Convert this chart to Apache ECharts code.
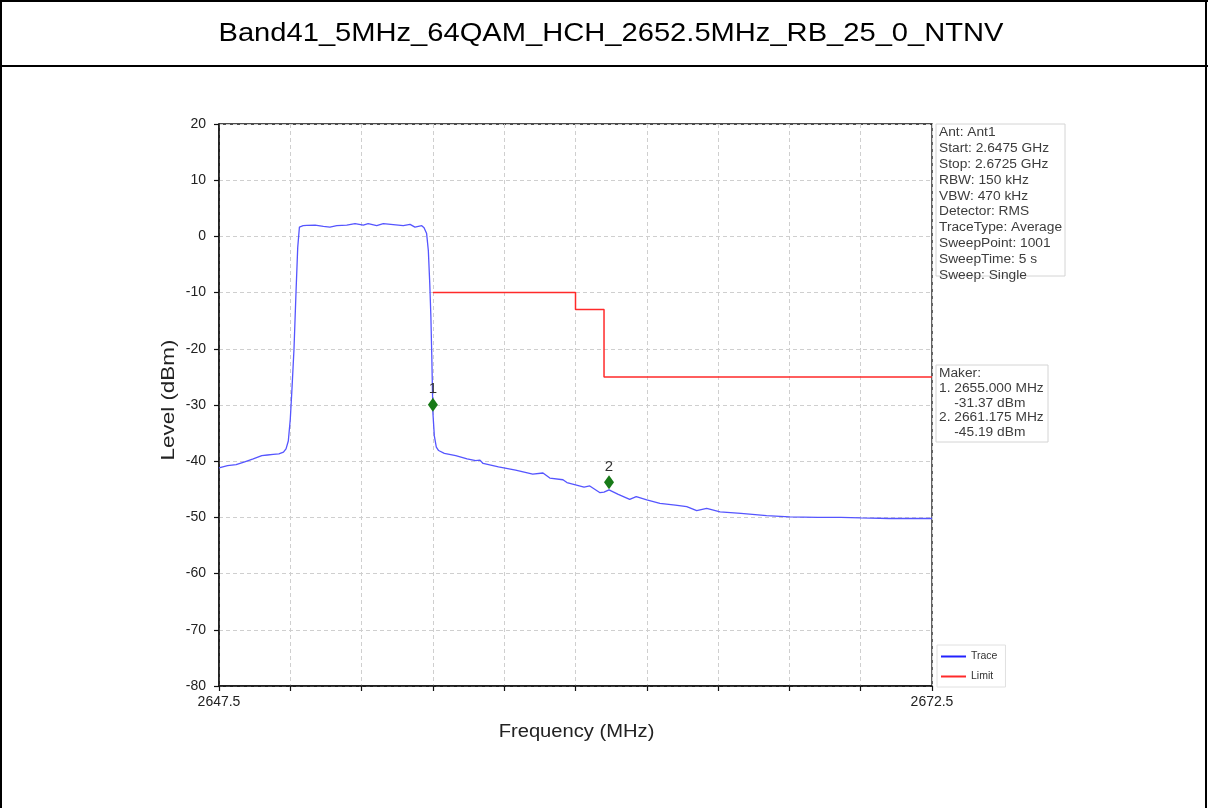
<!DOCTYPE html>
<html>
<head>
<meta charset="utf-8">
<script src="https://cdn.jsdelivr.net/npm/echarts@6/dist/echarts.min.js"></script>
<style>
html,body{margin:0;padding:0;background:#fff;}
#c{width:1208px;height:808px;}
</style>
</head>
<body>
<div id="c"></div>
<script>
var titleText = 'Band41_5MHz_64QAM_HCH_2652.5MHz_RB_25_0_NTNV';
var xName = 'Frequency (MHz)';
var yName = 'Level (dBm)';
var traceFreq = [2647.5,2647.8,2648.1,2648.4,2648.7,2649.0,2649.2,2649.4,2649.6,2649.76,2649.85,2649.93,2650.0,2650.06,2650.13,2650.2,2650.26,2650.32,2650.45,2650.58,2650.87,2651.16,2651.39,2651.63,2651.98,2652.27,2652.56,2652.73,2653.03,2653.26,2653.61,2653.96,2654.2,2654.37,2654.61,2654.69,2654.78,2654.84,2654.89,2654.93,2654.96,2655.0,2655.05,2655.12,2655.2,2655.4,2655.8,2656.2,2656.5,2656.65,2656.76,2657.3,2657.9,2658.5,2658.86,2659.1,2659.56,2659.7,2660.3,2660.5,2660.86,2661.0,2661.175,2661.5,2661.9,2662.13,2662.5,2662.96,2663.5,2663.9,2664.25,2664.6,2665.07,2665.8,2666.7,2667.5,2668.5,2669.3,2670.0,2671.0,2672.5];
var traceLevel = [-41.2,-40.8,-40.6,-40.1,-39.6,-39.0,-38.9,-38.8,-38.7,-38.4,-37.8,-36.4,-32.5,-27,-20,-10,-2,1.66,1.9,1.96,2.0,1.78,1.66,1.9,2.0,2.26,2.0,2.26,1.9,2.26,2.08,1.9,2.14,1.66,1.9,1.55,0.5,-2.5,-8.4,-14.4,-21,-31.37,-35.5,-37.5,-38.1,-38.6,-39.0,-39.6,-39.9,-39.8,-40.4,-41.0,-41.6,-42.3,-42.1,-43.0,-43.3,-43.8,-44.6,-44.4,-45.6,-45.5,-45.1,-45.9,-46.8,-46.3,-46.9,-47.5,-47.8,-48.1,-48.8,-48.4,-49.0,-49.3,-49.7,-49.9,-50.0,-50.0,-50.1,-50.2,-50.2];
var limitFreq = [2655.0,2660.0,2660.0,2661.0,2661.0,2672.5];
var limitLevel = [-10,-10,-13,-13,-25,-25];
var markerFreq = [2655.000,2661.175];
var markerLevel = [-31.37,-45.19];
var markerNames = ['1','2'];
var infoLines = ['Ant: Ant1','Start: 2.6475 GHz','Stop: 2.6725 GHz','RBW: 150 kHz','VBW: 470 kHz','Detector: RMS','TraceType: Average','SweepPoint: 1001','SweepTime: 5 s','Sweep: Single'];
var makerLines = ['Maker:','1. 2655.000 MHz','    -31.37 dBm','2. 2661.175 MHz','    -45.19 dBm'];
var xMin = 2647.5, xMax = 2672.5, xStep = 2.5;
var yMin = -80, yMax = 20, yStep = 10;

function zip(a,b){return a.map(function(v,i){return [v,b[i]];});}

var chart = echarts.init(document.getElementById('c'), null, {renderer:'canvas'});
var font = '"Liberation Sans", Arial, sans-serif';

var graphics = [
  {type:'line', shape:{x1:1,y1:0,x2:1,y2:808}, style:{stroke:'#000',lineWidth:2}},
  {type:'line', shape:{x1:0,y1:1,x2:1208,y2:1}, style:{stroke:'#000',lineWidth:2}},
  {type:'line', shape:{x1:1206,y1:0,x2:1206,y2:808}, style:{stroke:'#000',lineWidth:2}},
  {type:'line', shape:{x1:0,y1:66,x2:1208,y2:66}, style:{stroke:'#000',lineWidth:2}},
  {type:'text', x:611, y:34, scaleX:1.12, style:{text:titleText, font:'26px '+font, fill:'#000', align:'center', verticalAlign:'middle', textAlign:'center', textVerticalAlign:'middle'}},
  {type:'text', x:576.5, y:732, scaleX:1.12, style:{text:xName, font:'18px '+font, fill:'#222', align:'center', verticalAlign:'middle', textAlign:'center', textVerticalAlign:'middle'}},
  {type:'text', x:169, y:400, scaleX:1.28, rotation:Math.PI/2, style:{text:yName, font:'17.5px '+font, fill:'#222', align:'center', verticalAlign:'middle', textAlign:'center', textVerticalAlign:'middle'}},
  {type:'rect', shape:{x:936,y:124,width:129,height:152}, style:{fill:'#fff',stroke:'#d4d4d4',lineWidth:1}},
  {type:'text', x:939, y:125, scaleX:1.1, style:{text:infoLines.join('\n'), font:'12.5px '+font, fill:'#3c3c3c', lineHeight:15.8}},
  {type:'rect', shape:{x:936,y:365,width:112,height:77}, style:{fill:'#fff',stroke:'#d4d4d4',lineWidth:1}},
  {type:'text', x:939, y:366, scaleX:1.1, style:{text:makerLines.join('\n'), font:'12.5px '+font, fill:'#3c3c3c', lineHeight:14.85}}
];

var option = {
  animation:false,
  backgroundColor:'#fff',
  grid:{left:219, right:276, top:124, bottom:122, show:true, borderColor:'#111', borderWidth:1.3, backgroundColor:'transparent'},
  legend:{data:['Trace','Limit'], orient:'vertical', left:937, top:645, itemWidth:25, itemHeight:2, itemGap:9, icon:'rect',
    borderColor:'#e0e0e0', borderWidth:1, padding:[6,8,5,4], backgroundColor:'#fff',
    textStyle:{fontFamily:font, fontSize:10.5, color:'#333'}},
  xAxis:{type:'value', min:xMin, max:xMax, interval:xStep,
    axisLine:{onZero:false, lineStyle:{color:'#111', width:1.5}},
    axisTick:{show:true, length:5, lineStyle:{color:'#111', width:1.2}},
    axisLabel:{fontFamily:font, fontSize:14, color:'#222', margin:9,
      formatter:function(v){return (Math.abs(v-xMin)<1e-6||Math.abs(v-xMax)<1e-6)? v.toFixed(1):'';}},
    splitLine:{show:true, lineStyle:{color:'#cfcfcf', type:[4,3], width:1}}},
  yAxis:{type:'value', min:yMin, max:yMax, interval:yStep,
    axisLine:{show:true, onZero:false, lineStyle:{color:'#111', width:1.5}},
    axisTick:{show:true, length:5, lineStyle:{color:'#111', width:1.2}},
    axisLabel:{fontFamily:font, fontSize:14, color:'#222', margin:13},
    splitLine:{show:true, lineStyle:{color:'#cfcfcf', type:[4,3], width:1}}},
  series:[
    {name:'Trace', type:'line', data:zip(traceFreq,traceLevel), showSymbol:false, symbol:'none',
      lineStyle:{color:'#5555ff', width:1.3}, itemStyle:{color:'#2222ff'}, z:3},
    {name:'Limit', type:'line', data:zip(limitFreq,limitLevel), showSymbol:false, symbol:'none',
      lineStyle:{color:'#ff2a2a', width:1.5}, itemStyle:{color:'#ff2a2a'}, z:2},
    {name:'Markers', type:'scatter', symbol:'diamond', symbolSize:[10,14], symbolOffset:[0,-8],
      data:markerFreq.map(function(f,i){return {value:[f,markerLevel[i]], name:markerNames[i]};}),
      itemStyle:{color:'#187a18', opacity:1},
      label:{show:true, position:'top', distance:1, formatter:function(p){return p.name;}, fontFamily:font, fontSize:15, color:'#333'}, z:5}
  ],
  graphic:graphics
};
chart.setOption(option);
</script>
</body>
</html>
